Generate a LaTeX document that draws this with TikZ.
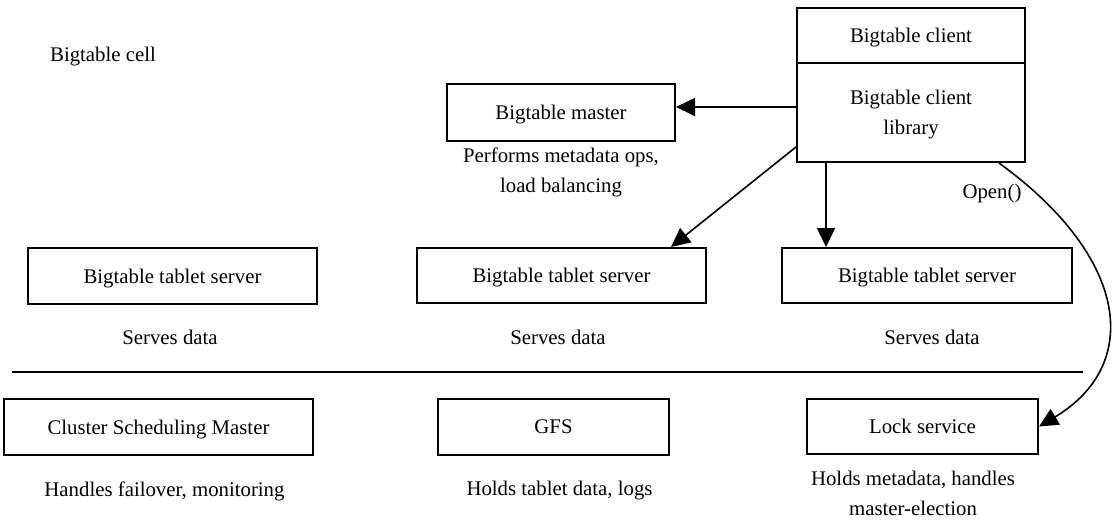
\documentclass[tikz,border=0pt]{standalone}
\usepackage{fontspec}
\setmainfont{Liberation Serif}
\usetikzlibrary{arrows.meta}

\begin{document}
\begin{tikzpicture}[x=0.5pt,y=-0.5pt,
        font=\fontsize{10.4}{15}\selectfont,
        box/.style={draw,line width=1pt,minimum height=27.5pt,inner sep=0pt,align=center,text depth=0pt},
        note/.style={align=center,inner sep=0pt},
        link/.style={line width=0.8pt,-{Triangle[length=9.5pt,width=9pt]}}]
        \useasboundingbox (0,0) rectangle (1114,527);

        %top part
        \node[note] (cell) at (103,57) {Bigtable cell};
        \node[box,minimum width=114pt] (client) at (911,35.5) {Bigtable client};
        \node[box,minimum width=114pt,minimum height=49.5pt] (lib) at (911,112.5) {Bigtable client\\library};
        \node[box,minimum width=114pt,minimum height=28.5pt] (master) at (561,112.5) {Bigtable master};
        \node[note] (masternote) at (561,172) {Performs metadata ops,\\load balancing};

        %tablet servers
        \node[box,minimum width=144.5pt,minimum height=28pt] (ts1) at (172.5,276) {Bigtable tablet server};
        \node[box,minimum width=144.5pt] (ts2) at (561.5,275.5) {Bigtable tablet server};
        \node[box,minimum width=145pt] (ts3) at (927,275.5) {Bigtable tablet server};
        \node[note] (ts1note) at (170,337) {Serves data};
        \node[note] (ts2note) at (558,337) {Serves data};
        \node[note] (ts3note) at (932,337) {Serves data};

        %separator
        \draw[line width=1pt] (12,372) -- (1083,372);

        %bottom part
        \node[box,minimum width=154.5pt,minimum height=28pt] (csm) at (158.5,427) {Cluster Scheduling Master};
        \node[box,minimum width=115.5pt,minimum height=28pt] (gfs) at (553.5,427) {GFS};
        \node[box,minimum width=115.5pt] (lock) at (922.5,426.5) {Lock service};
        \node[note] (csmnote) at (164.5,491) {Handles failover, monitoring};
        \node[note] (gfsnote) at (559.5,491) {Holds tablet data, logs};
        \node[note] (locknote) at (913,493.5) {Holds metadata, handles\\master-election};

        %arrows
        \draw[link] ([yshift=2.75pt]lib.west) -- ([yshift=2.75pt]master.east);
        \draw[link] ([yshift=8pt]lib.south west) -- ([xshift=-18pt]ts2.north east);
        \draw[link] ([xshift=15pt]lib.south west) -- ([xshift=15pt]lib.south west |- ts3.north);
        \draw[link] ([xshift=-13.5pt]lib.south east) .. controls +(132,96) and +(102,-61) .. (lock.east);
        \node[note] (open) at (992,193) {Open()};
\end{tikzpicture}
\end{document}
